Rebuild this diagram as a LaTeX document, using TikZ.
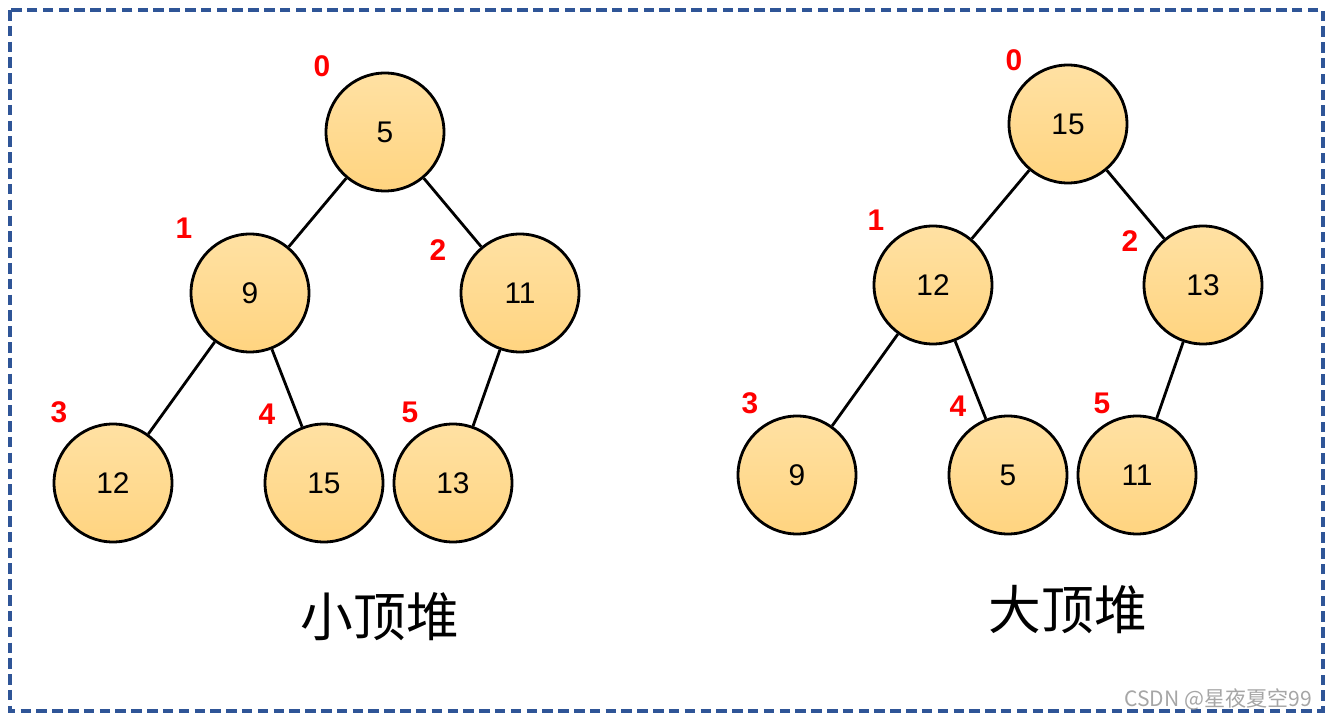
\documentclass[tikz,border=0pt]{standalone}
\usepackage{fontspec}
\setmainfont{Liberation Sans}
\newfontfamily\cjk{Noto Sans CJK SC}
\usetikzlibrary{positioning}
\definecolor{borderblue}{HTML}{2F5597}
\definecolor{heaptop}{HTML}{FFE1A3}
\definecolor{heapbottom}{HTML}{FFD480}
\begin{document}
\begin{tikzpicture}[x=0.02cm, y=-0.02cm,
    heapnode/.style={circle, draw, line width=1.6pt, minimum size=2.36cm, top color=heaptop, bottom color=heapbottom, font=\fontsize{17}{19}\selectfont},
    idx/.style={text=red, font=\bfseries\fontsize{17}{19}\selectfont},
    edge/.style={line width=1.6pt}
]
    \useasboundingbox (0,0) rectangle (1333,719);
    \draw[borderblue, dash pattern=on 6pt off 3pt, line width=2.2pt] (10,10) rectangle (1323,711);

    % 小顶堆
    \node[heapnode] (a0) at (385,132) {5};
    \node[heapnode] (a1) at (250,293) {9};
    \node[heapnode] (a2) at (520,293) {11};
    \node[heapnode] (a3) at (113,483) {12};
    \node[heapnode] (a4) at (324,483) {15};
    \node[heapnode] (a5) at (453,483) {13};
    \draw[edge] (a0) -- (a1);
    \draw[edge] (a0) -- (a2);
    \draw[edge] (a1) -- (a3);
    \draw[edge] (a1) -- (a4);
    \draw[edge] (a2) -- (a5);
    \node[idx] at (322,66) {0};
    \node[idx] at (184,228) {1};
    \node[idx] at (438,250) {2};
    \node[idx] at (59,412) {3};
    \node[idx] at (267,414) {4};
    \node[idx] at (410,412) {5};
    \node[font=\cjk\fontsize{30}{34}\selectfont] (minlabel) at (380,617) {小顶堆};

    % 大顶堆
    \node[heapnode] (b0) at (1068,124) {15};
    \node[heapnode] (b1) at (933,285) {12};
    \node[heapnode] (b2) at (1203,285) {13};
    \node[heapnode] (b3) at (797,475) {9};
    \node[heapnode] (b4) at (1008,475) {5};
    \node[heapnode] (b5) at (1137,475) {11};
    \draw[edge] (b0) -- (b1);
    \draw[edge] (b0) -- (b2);
    \draw[edge] (b1) -- (b3);
    \draw[edge] (b1) -- (b4);
    \draw[edge] (b2) -- (b5);
    \node[idx] at (1014,60) {0};
    \node[idx] at (876,220) {1};
    \node[idx] at (1130,241) {2};
    \node[idx] at (750,403) {3};
    \node[idx] at (958,406) {4};
    \node[idx] at (1102,403) {5};
    \node[font=\cjk\fontsize{30}{34}\selectfont] (maxlabel) at (1068,610) {大顶堆};

    \node[text=gray!70, font=\cjk\fontsize{12}{14}\selectfont, anchor=east] (mark) at (1318,699) {CSDN @星夜夏空99};
\end{tikzpicture}
\end{document}
